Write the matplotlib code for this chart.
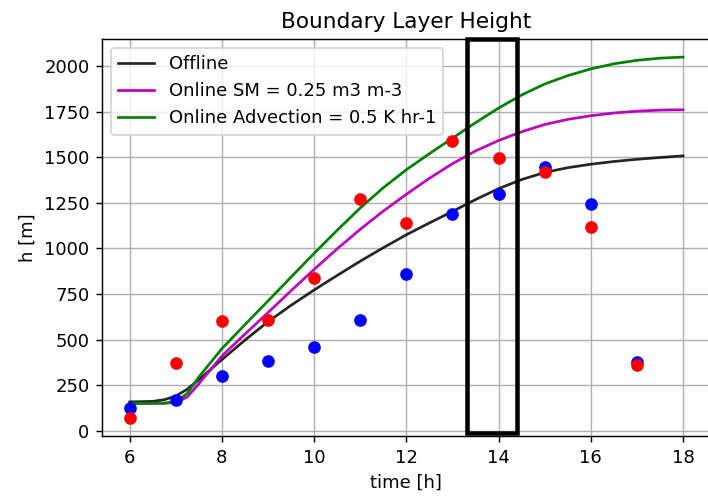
import matplotlib
matplotlib.use("Agg")
import matplotlib.pyplot as plt
from matplotlib.patches import Rectangle

# horas do modelo
t = [6, 6.5, 6.75, 7, 7.25, 7.5, 8, 8.5, 9, 9.5, 10, 10.5, 11, 11.5, 12, 12.5,
     13, 13.5, 14, 14.5, 15, 15.5, 16, 16.5, 17, 17.5, 18]
h_offline = [158, 161, 170, 190, 228, 280, 390, 497, 598, 688, 772, 852, 930, 1004, 1075, 1140,
             1203, 1268, 1328, 1378, 1417, 1443, 1462, 1477, 1489, 1499, 1508]
h_sm = [150, 150, 151, 155, 185, 258, 410, 530, 648, 768, 885, 998, 1105, 1205, 1297, 1385,
        1465, 1535, 1592, 1640, 1680, 1708, 1728, 1743, 1753, 1759, 1761]
h_adv = [150, 150, 151, 158, 205, 295, 450, 582, 712, 843, 973, 1100, 1222, 1333, 1432, 1520,
         1605, 1690, 1770, 1842, 1902, 1948, 1985, 2013, 2032, 2044, 2050]

# observacoes
t_obs = [6, 7, 8, 9, 10, 11, 12, 13, 14, 15, 16, 17]
obs_blue = [123, 170, 298, 381, 458, 610, 857, 1190, 1300, 1447, 1242, 375]
obs_red = [70, 372, 600, 610, 839, 1269, 1141, 1587, 1498, 1419, 1119, 361]

DPI = 130
fig = plt.figure(figsize=(708/DPI, 499/DPI), dpi=DPI)
ax = fig.add_axes([0.1441, 0.1263, 0.8597, 0.7955])

ax.plot(t, h_offline, color='k', lw=1.5, alpha=0.85, label='Offline')
ax.plot(t, h_sm, color='m', lw=1.5, label='Online SM = 0.25 m3 m-3')
ax.plot(t, h_adv, color='g', lw=1.5, label='Online Advection = 0.5 K hr-1')
ax.plot(t_obs, obs_blue, 'bo', ms=6)
ax.plot(t_obs, obs_red, 'ro', ms=6)

# caixa destacando 14h
ax.add_patch(Rectangle((13.32, -11), 1.08, 2160, fill=False, ec='k', lw=2.5,
                       clip_on=False, zorder=5))

ax.set_xlim(5.4, 18.6)
ax.set_ylim(-29, 2149)
ax.set_xticks(range(6, 19, 2))
ax.set_yticks(range(0, 2001, 250))
ax.grid(True)
ax.set_title('Boundary Layer Height')
ax.set_xlabel('time [h]')
ax.set_ylabel('h [m]')
ax.legend(loc='upper left')

fig.savefig('out.png', dpi=DPI)
